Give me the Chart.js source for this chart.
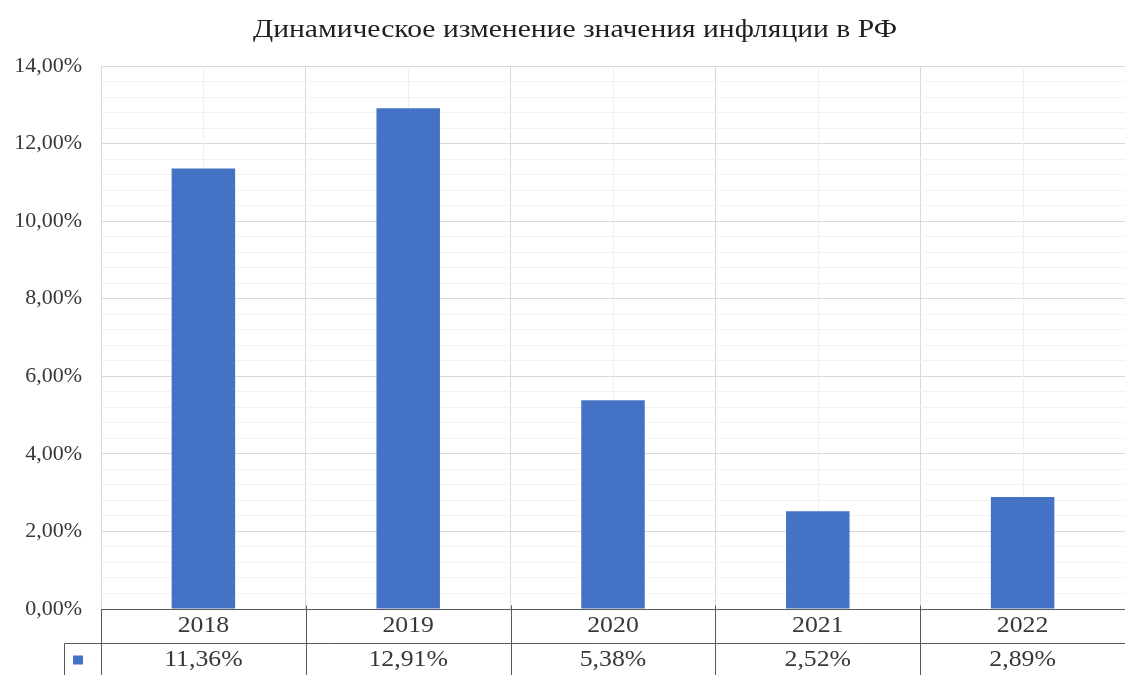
<!DOCTYPE html>
<html lang="ru">
<head>
<meta charset="utf-8">
<title>Инфляция в РФ</title>
<script src="https://cdn.jsdelivr.net/npm/chart.js@4.4.1/dist/chart.umd.min.js"></script>
<style>
  html, body { margin: 0; padding: 0; background: #fff; }
  canvas { display: block; }
</style>
</head>
<body>
<canvas id="grafico" width="1125" height="675"></canvas>
<script>
const anos = ["2018", "2019", "2020", "2021", "2022"];
const inflacao = [11.36, 12.91, 5.38, 2.52, 2.89];
const titulo = "Динамическое изменение значения инфляции в РФ";
const corBarra = "#4472C4";
const fonte = "'Liberation Serif', 'Times New Roman', serif";

function pct(v) {
  return v.toFixed(2).replace(".", ",") + "%";
}

function ehMaior(v) {
  return Math.abs(v / 2 - Math.round(v / 2)) < 1e-6;
}

// texto centralizado e um pouco alargado na horizontal
function textoLargo(ctx, txt, x, y, sx) {
  ctx.save();
  ctx.translate(x, y);
  ctx.scale(sx, 1);
  ctx.fillText(txt, 0, 0);
  ctx.restore();
}

// título, linhas finas no meio das colunas e a tabela de dados embaixo
const tabelaPlugin = {
  id: "tabela",
  beforeDatasetsDraw(chart) {
    const { ctx, chartArea, scales } = chart;
    ctx.save();
    ctx.strokeStyle = "#f0f0f0";
    ctx.lineWidth = 1;
    anos.forEach((_, i) => {
      const x = Math.round(scales.x.getPixelForValue(i)) + 0.5;
      ctx.beginPath();
      ctx.moveTo(x, chartArea.top);
      ctx.lineTo(x, chartArea.bottom);
      ctx.stroke();
    });
    ctx.restore();
  },
  afterDraw(chart) {
    const { ctx, chartArea, scales } = chart;
    const x = scales.x;
    const topo = Math.round(chartArea.bottom) + 0.5;
    const meio = topo + 34;
    const fim = chart.height;
    const legX = 64.5;

    ctx.save();
    ctx.fillStyle = "#1f1f1f";
    ctx.font = "26px " + fonte;
    ctx.textAlign = "center";
    ctx.textBaseline = "middle";
    const larg = ctx.measureText(titulo).width;
    textoLargo(ctx, titulo, 575, 30, 644 / larg);

    ctx.strokeStyle = "#595959";
    ctx.lineWidth = 1;
    ctx.beginPath();
    ctx.moveTo(chartArea.left, topo);
    ctx.lineTo(chartArea.right, topo);
    ctx.moveTo(legX, meio);
    ctx.lineTo(chartArea.right, meio);
    ctx.moveTo(Math.round(chartArea.left) + 0.5, topo);
    ctx.lineTo(Math.round(chartArea.left) + 0.5, fim);
    ctx.moveTo(legX, meio);
    ctx.lineTo(legX, fim);
    for (let i = 1; i < anos.length; i++) {
      const bx = Math.round((x.getPixelForValue(i - 1) + x.getPixelForValue(i)) / 2) + 0.5;
      ctx.moveTo(bx, topo - 4);
      ctx.lineTo(bx, fim);
    }
    ctx.stroke();

    ctx.fillStyle = "#383838";
    ctx.font = "23px " + fonte;
    anos.forEach((ano, i) => {
      const cx = x.getPixelForValue(i);
      textoLargo(ctx, ano, cx, topo + 16, 1.12);
      textoLargo(ctx, pct(inflacao[i]), cx, meio + 16, 1.12);
    });

    // chave da legenda
    ctx.fillStyle = corBarra;
    ctx.fillRect(73, meio + 12, 10, 9);
    ctx.restore();
  }
};

new Chart(document.getElementById("grafico"), {
  type: "bar",
  data: {
    labels: anos,
    datasets: [{
      label: "Инфляция",
      data: inflacao,
      backgroundColor: corBarra,
      barPercentage: 0.31,
      categoryPercentage: 1
    }]
  },
  options: {
    responsive: false,
    animation: false,
    layout: { padding: { top: 66, bottom: 66, left: 0, right: 0 } },
    plugins: {
      legend: { display: false },
      title: { display: false },
      tooltip: { enabled: false }
    },
    scales: {
      x: {
        ticks: { display: false },
        border: { display: false },
        grid: { drawTicks: false, color: "#d9d9d9", offset: true }
      },
      y: {
        min: 0,
        max: 14,
        afterFit(scale) { scale.width = 101; },
        border: { display: false },
        grid: {
          drawTicks: false,
          color: (c) => ehMaior(c.tick.value) ? "#d9d9d9" : "#f2f2f2"
        },
        ticks: {
          stepSize: 0.4,
          autoSkip: false,
          padding: 19,
          color: "#383838",
          font: { family: fonte, size: 22 },
          callback: (v) => ehMaior(v) ? pct(v) : ""
        }
      }
    }
  },
  plugins: [tabelaPlugin]
});
</script>
</body>
</html>
